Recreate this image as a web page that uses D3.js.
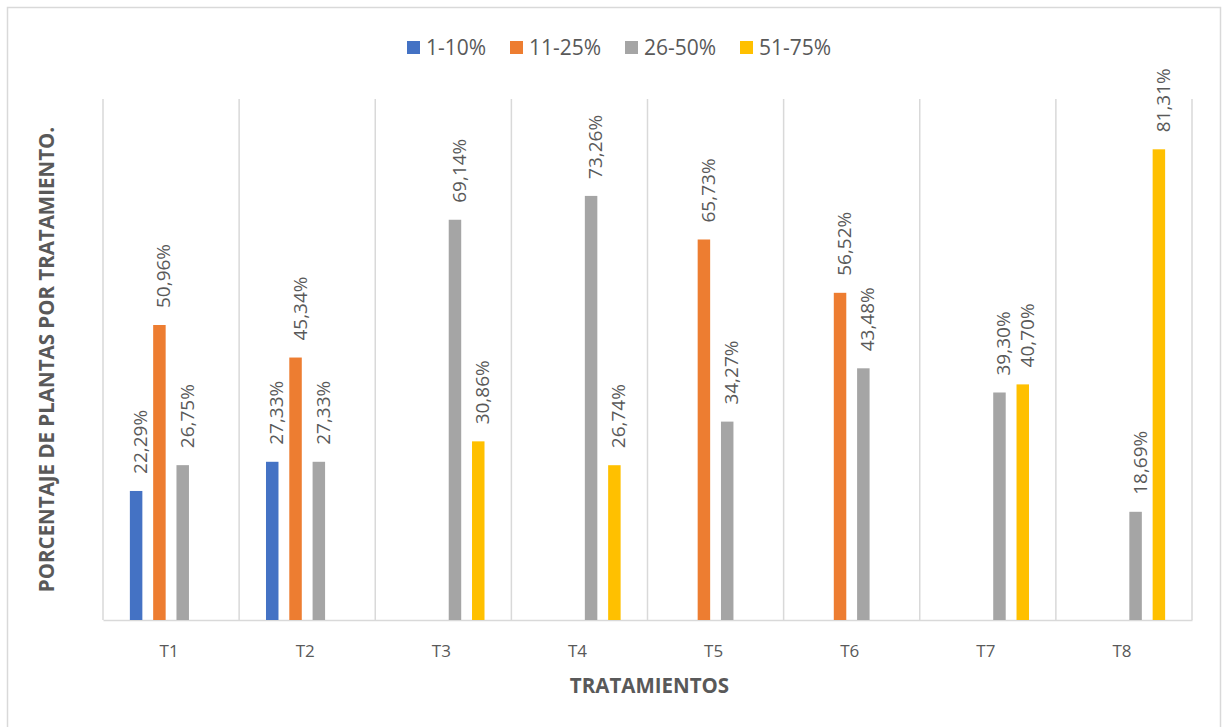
<!DOCTYPE html>
<html>
<head>
<meta charset="utf-8">
<script src="https://cdn.jsdelivr.net/npm/d3@7"></script>
<style>
  body { margin: 0; background: #fff; }
  svg { display: block; }
  svg text { font-family: "Open Sans", Lato, sans-serif; }
</style>
</head>
<body>
<svg id="chart" width="1223" height="727"></svg>
<script>
// Treatments and damage-class series
const categories = ["T1", "T2", "T3", "T4", "T5", "T6", "T7", "T8"];
const seriesNames = ["1-10%", "11-25%", "26-50%", "51-75%"];
const seriesColors = ["#4472C4", "#ED7D31", "#A5A5A5", "#FFC000"];
const values_1_10 = [22.29, 27.33, 0, 0, 0, 0, 0, 0];
const values_11_25 = [50.96, 45.34, 0, 0, 65.73, 56.52, 0, 0];
const values_26_50 = [26.75, 27.33, 69.14, 73.26, 34.27, 43.48, 39.30, 18.69];
const values_51_75 = [0, 0, 30.86, 26.74, 0, 0, 40.70, 81.31];
const seriesValues = [values_1_10, values_11_25, values_26_50, values_51_75];
const yMax = 90;

const svg = d3.select("#chart");
const textColor = "#595959";
const gridColor = "#D9D9D9";
const fontFamily = '"Open Sans", Lato, sans-serif';

// Outer chart frame (bottom edge runs past the visible area)
svg.append("rect")
  .attr("x", 7.5).attr("y", 7.5)
  .attr("width", 1213).attr("height", 740)
  .attr("fill", "#fff").attr("stroke", gridColor).attr("stroke-width", 1.5);

const plot = { left: 103, right: 1192, top: 99, bottom: 620 };

const x0 = d3.scaleBand().domain(categories).range([plot.left, plot.right]);
const groupW = 93.2;
const x1 = d3.scaleBand().domain(seriesNames)
  .range([-groupW / 2, groupW / 2])
  .paddingInner(0.464).paddingOuter(0.232);
const y = d3.scaleLinear().domain([0, yMax]).range([plot.bottom, plot.top]);

// Vertical separators between treatments
const bounds = categories.map(c => x0(c)).concat([plot.right]);
svg.append("g").selectAll("line").data(bounds).join("line")
  .attr("x1", d => d).attr("x2", d => d)
  .attr("y1", plot.top).attr("y2", plot.bottom)
  .attr("stroke", gridColor).attr("stroke-width", 1.5);

// Category axis
const xAxis = svg.append("g")
  .attr("transform", `translate(0,${plot.bottom})`)
  .call(d3.axisBottom(x0).tickSize(0).tickPadding(25))
  .attr("font-family", fontFamily);
xAxis.select(".domain").attr("stroke", gridColor).attr("stroke-width", 1.5);
xAxis.selectAll("text")
  .attr("fill", textColor).attr("font-size", 17).attr("dx", -2);

// Bars
const rows = [];
categories.forEach((c, i) => {
  seriesNames.forEach((s, j) => {
    rows.push({ cat: c, series: s, color: seriesColors[j], value: seriesValues[j][i] });
  });
});
const visible = rows.filter(d => d.value > 0);

svg.append("g").selectAll("rect").data(visible).join("rect")
  .attr("x", d => x0(d.cat) + x0.bandwidth() / 2 + x1(d.series))
  .attr("y", d => y(d.value))
  .attr("width", x1.bandwidth())
  .attr("height", d => y(0) - y(d.value))
  .attr("fill", d => d.color);

// Rotated value labels
const fmt = v => v.toFixed(2).replace(".", ",") + "%";
svg.append("g").selectAll("text").data(visible).join("text")
  .attr("transform", d => {
    const cx = x0(d.cat) + x0.bandwidth() / 2 + x1(d.series) + x1.bandwidth() / 2 + 11;
    const cy = y(d.value) - 17;
    return `translate(${cx},${cy}) rotate(-90)`;
  })
  .attr("fill", textColor).attr("font-size", 19)
  .attr("text-anchor", "start")
  .text(d => fmt(d.value));

// Legend
const legendX = [407, 510, 625, 740];
const legend = svg.append("g").selectAll("g").data(seriesNames).join("g")
  .attr("transform", (d, i) => `translate(${legendX[i]},41)`);
legend.append("rect")
  .attr("width", 13).attr("height", 13)
  .attr("fill", (d, i) => seriesColors[i]);
legend.append("text")
  .attr("x", 19).attr("y", 14)
  .attr("fill", textColor).attr("font-size", 21)
  .text(d => d);

// Axis titles
svg.append("text")
  .attr("x", (plot.left + plot.right) / 2 + 2).attr("y", 693)
  .attr("text-anchor", "middle")
  .attr("fill", textColor).attr("font-size", 20.5).attr("font-weight", "bold")
  .text("TRATAMIENTOS");

svg.append("text")
  .attr("transform", `translate(54,${(plot.top + plot.bottom) / 2}) rotate(-90)`)
  .attr("text-anchor", "middle")
  .attr("fill", textColor).attr("font-size", 20.5).attr("font-weight", "bold")
  .text("PORCENTAJE DE PLANTAS POR TRATAMIENTO.");
</script>
</body>
</html>
